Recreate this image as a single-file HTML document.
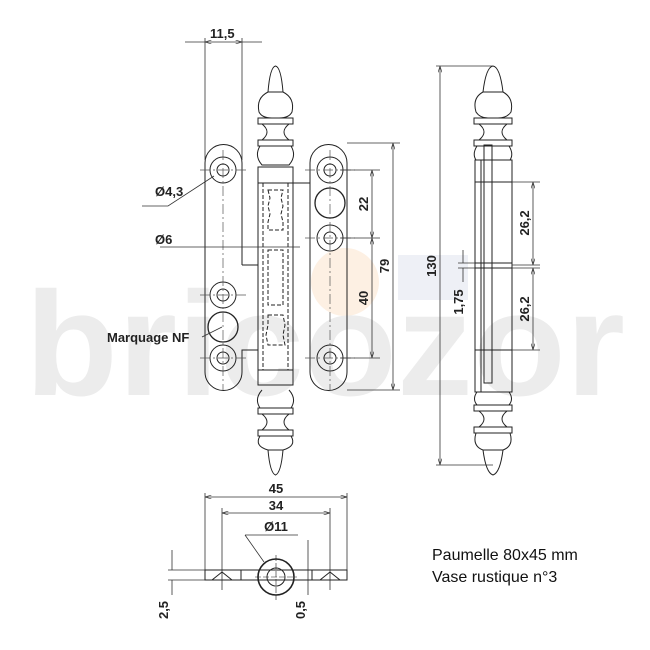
<!DOCTYPE html>
<html><head><meta charset="utf-8"><style>
html,body{margin:0;padding:0;background:#fff}
svg{display:block}
text{font-family:"Liberation Sans",sans-serif}
</style></head><body>
<svg width="650" height="650" viewBox="0 0 650 650" xmlns="http://www.w3.org/2000/svg">
<defs>
<marker id="a" viewBox="0 0 10 6" refX="10" refY="3" markerWidth="8" markerHeight="5" orient="auto-start-reverse"><path d="M0,0 L10,3 L0,6" fill="none" stroke="#333" stroke-width="1"/></marker>
</defs>
<!-- watermark -->
<circle cx="345" cy="282" r="34" fill="#fdf0e3"/>
<rect x="398" y="255" width="70" height="45" fill="#eef0f6"/>
<text x="25" y="395" font-size="148" font-weight="bold" fill="#ececec" textLength="600" lengthAdjust="spacingAndGlyphs">bricozor</text>

<g fill="none" stroke="#222" stroke-width="1">
<!-- left leaf -->
<path d="M242,265 L242,163 A18.5,18.5 0 0 0 205,163 L205,372 A18.5,18.5 0 0 0 242,372 L242,350 L258,350"/>
<path d="M242,265 L258,265"/>
<circle cx="223" cy="170" r="13"/><circle cx="223" cy="170" r="6"/>
<circle cx="223" cy="295" r="13"/><circle cx="223" cy="295" r="6"/>
<circle cx="223" cy="358" r="13"/><circle cx="223" cy="358" r="6"/>
<circle cx="223" cy="327" r="15" stroke-width="1.3"/>
<!-- right leaf -->
<path d="M292,183 L310,183 L310,372 A18.5,18.5 0 0 0 347,372 L347,163 A18.5,18.5 0 0 0 310,163 L310,183"/>
<circle cx="330" cy="170" r="13"/><circle cx="330" cy="170" r="6"/>
<circle cx="330" cy="238" r="13"/><circle cx="330" cy="238" r="6"/>
<circle cx="330" cy="358" r="13"/><circle cx="330" cy="358" r="6"/>
<circle cx="330" cy="203" r="15" stroke-width="1.3"/>
<!-- knuckle -->
<rect x="258" y="167" width="35" height="218"/>
<line x1="258" y1="183" x2="293" y2="183"/><line x1="258" y1="370" x2="293" y2="370"/>
<path d="M268,92 Q270,67 275.5,66 Q281,67 283,92 Z"/>
<path d="M268,92 Q256,98 259,112 Q262,118 272,118 L279,118 Q289,118 292,112 Q295,98 283,92"/>
<rect x="258" y="118" width="35" height="6"/>
<path d="M262,124 Q272,132 262,140 M289,124 Q279,132 289,140"/>
<rect x="258" y="140" width="35" height="6"/>
<path d="M260,146 Q254,156 262,165 L289,165 Q297,156 291,146"/>
<path d="M262,390 Q254,399 260,408 L291,408 Q297,399 289,390"/>
<rect x="258" y="408" width="35" height="6"/>
<path d="M262,414 Q272,422 262,430 M289,414 Q279,422 289,430"/>
<rect x="258" y="430" width="35" height="6"/>
<path d="M260,436 Q254,446 268,450 L283,450 Q297,446 291,436"/>
<path d="M268,450 Q270,473 275.5,475 Q281,473 283,450"/>
<g stroke-dasharray="4,2">
<path d="M263,183 L263,370 M288,183 L288,370"/>
<path d="M268,190 L283,190 L281,198 L283,206 L281,214 L283,222 L283,230 L268,230 L268,222 L270,214 L268,206 L270,198 Z"/>
<path d="M268,250 L283,250 L283,305 L268,305 Z"/>
<path d="M268,315 L283,315 L285,325 L283,335 L285,345 L268,345 L266,335 L268,325 Z"/>
</g>
<!-- centerlines -->
<g stroke-dasharray="10,3,2,3" stroke="#555" stroke-width="0.7">
<path d="M223,150 V390 M200,170 H248 M200,295 H248 M200,358 H248 M330,150 V390 M305,170 H355 M305,238 H355 M305,358 H355"/>
</g>
</g>

<!-- dimensions -->
<g stroke="#333" stroke-width="0.8" fill="none">
<path d="M205,38 V160 M242,38 V160"/>
<path d="M185,42 H205 M242,42 H262" />
<line x1="205" y1="42" x2="242" y2="42" marker-start="url(#a)" marker-end="url(#a)"/>
<path d="M347,143 H400 M347,390 H400 M340,170 H380 M340,238 H380 M340,358 H380"/>
<line x1="372" y1="170" x2="372" y2="238" marker-start="url(#a)" marker-end="url(#a)"/>
<line x1="372" y1="238" x2="372" y2="358" marker-start="url(#a)" marker-end="url(#a)"/>
<line x1="393" y1="143" x2="393" y2="390" marker-start="url(#a)" marker-end="url(#a)"/>
<path d="M160,247 H300"/>
<path d="M142,206 H168 L214,176"/>
<path d="M202,337 L222,327"/>
</g>
<g font-weight="bold" font-size="13" fill="#222">
<text x="210" y="38">11,5</text>
<text x="155" y="196">Ø4,3</text>
<text x="155" y="244">Ø6</text>
<text x="107" y="342">Marquage NF</text>
<text transform="translate(368,204) rotate(-90)" text-anchor="middle">22</text>
<text transform="translate(368,298) rotate(-90)" text-anchor="middle">40</text>
<text transform="translate(389,266) rotate(-90)" text-anchor="middle">79</text>
<text transform="translate(436,266) rotate(-90)" text-anchor="middle">130</text>
<text transform="translate(463,302) rotate(-90)" text-anchor="middle">1,75</text>
<text transform="translate(529,223) rotate(-90)" text-anchor="middle">26,2</text>
<text transform="translate(529,309) rotate(-90)" text-anchor="middle">26,2</text>
<text x="276" y="493" text-anchor="middle">45</text>
<text x="276" y="510" text-anchor="middle">34</text>
<text x="276" y="531" text-anchor="middle">Ø11</text>
<text transform="translate(168,610) rotate(-90)" text-anchor="middle">2,5</text>
<text transform="translate(305,610) rotate(-90)" text-anchor="middle">0,5</text>
</g>

<!-- side view -->
<g fill="none" stroke="#222" stroke-width="1">
<path d="M483,92 Q486,67 493,66 Q500,67 503,92 Z"/>
<path d="M483,92 Q472,98 476,112 Q480,118 488,118 L498,118 Q507,118 511,112 Q514,98 503,92"/>
<rect x="474" y="118" width="38" height="6"/>
<path d="M479,124 Q489,132 479,140 M507,124 Q497,132 507,140"/>
<rect x="474" y="140" width="38" height="6"/>
<path d="M477,146 Q472,154 476,160 M509,146 Q514,154 510,160"/>
<rect x="475" y="160" width="37" height="232"/>
<path d="M475,182 H512 M475,350 H512 M475,263 H512 M475,268 H512 M481,160 V392"/>
<rect x="484" y="145" width="8" height="238"/>
<path d="M477,392 Q472,399 477,405 M509,392 Q514,399 509,405"/>
<rect x="474" y="405" width="38" height="6"/>
<path d="M479,411 Q489,419 479,427 M507,411 Q497,419 507,427"/>
<rect x="474" y="427" width="38" height="6"/>
<path d="M476,433 Q472,446 483,450 L503,450 Q514,446 510,433"/>
<path d="M483,450 Q486,473 493,475 Q500,473 503,450"/>
</g>
<g stroke="#333" stroke-width="0.8" fill="none">
<path d="M436,66 H493 M436,465 H493 M512,182 H540 M512,265 H540 M512,268 H540 M512,350 H540 M458,263 H475 M458,268 H475"/>
<line x1="440" y1="66" x2="440" y2="465" marker-start="url(#a)" marker-end="url(#a)"/>
<line x1="533" y1="182" x2="533" y2="265" marker-start="url(#a)" marker-end="url(#a)"/>
<line x1="533" y1="268" x2="533" y2="350" marker-start="url(#a)" marker-end="url(#a)"/>
<path d="M463,250 V263 M463,268 V282"/>
</g>

<!-- bottom view -->
<g stroke="#333" stroke-width="0.8" fill="none">
<path d="M205,493 V572 M347,493 V572 M222,508 V590 M330,508 V590"/>
<line x1="205" y1="497" x2="347" y2="497" marker-start="url(#a)" marker-end="url(#a)"/>
<line x1="222" y1="513" x2="330" y2="513" marker-start="url(#a)" marker-end="url(#a)"/>
<path d="M245,535 H298 M245,535 L264,562"/>
<path d="M168,570 H205 M168,580 H205 M172,550 V570 M172,580 V595"/>
<path d="M308,570 V595 M308,540 V575"/>
</g>
<g fill="none" stroke="#222" stroke-width="1">
<rect x="205" y="570" width="142" height="10"/>
<path d="M212,580 L222,572 L232,580 M320,580 L330,572 L340,580 M241,570 V580 M312,570 V580"/>
<circle cx="276" cy="577" r="18" stroke-width="1.6"/>
<circle cx="276" cy="577" r="9"/>
<path d="M276,555 V600 M255,577 H297" stroke-dasharray="6,2" stroke-width="0.6"/>
</g>

<text x="432" y="560" font-size="16" fill="#111">Paumelle 80x45 mm</text>
<text x="432" y="582" font-size="16" fill="#111">Vase rustique n°3</text>
</svg>
</body></html>
